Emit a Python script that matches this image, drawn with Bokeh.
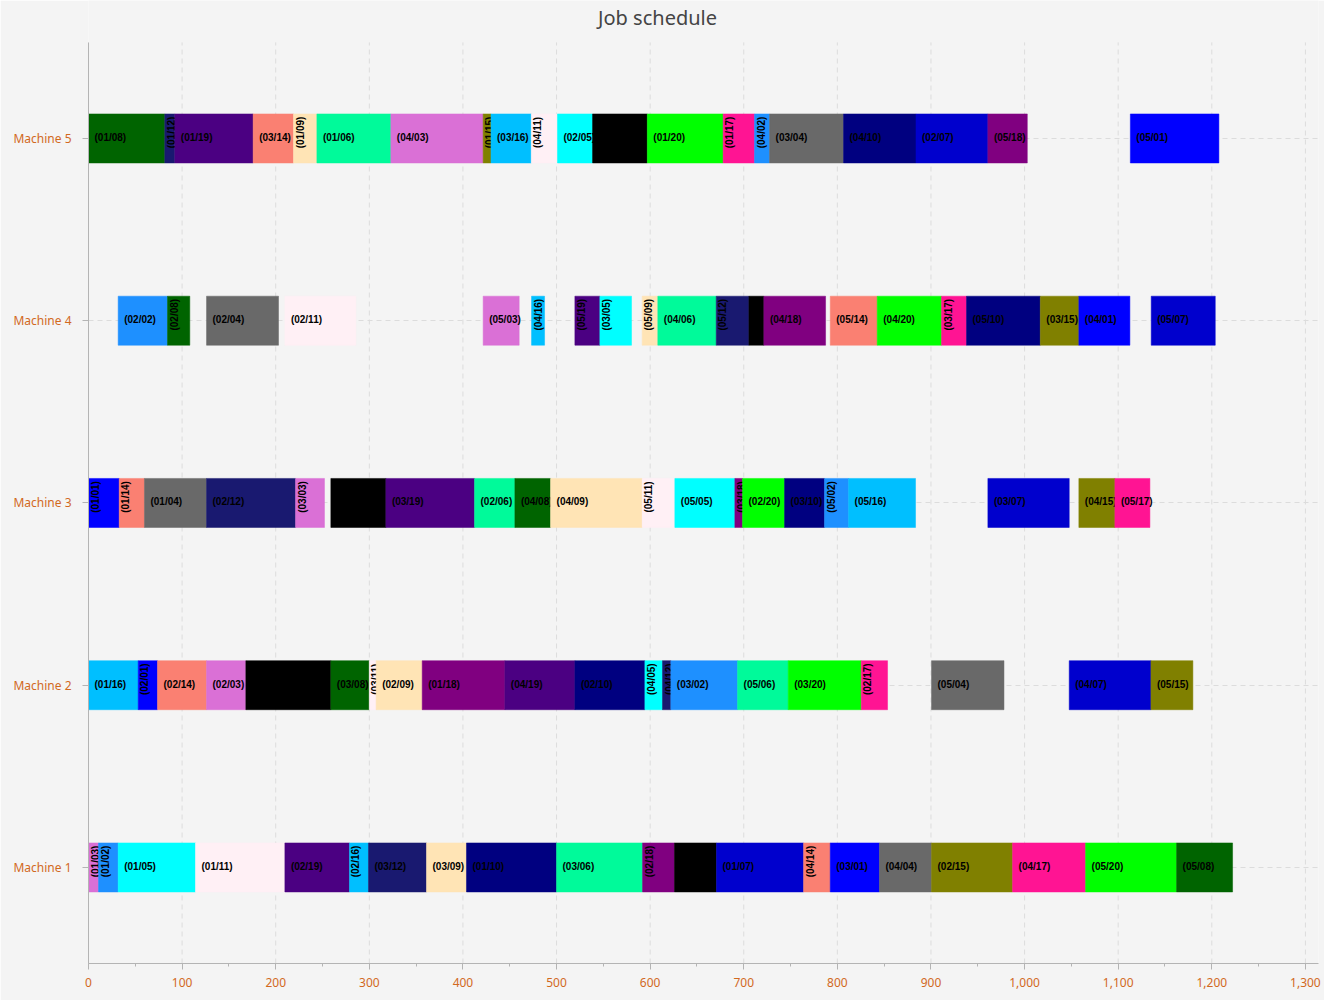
import math
from bokeh.plotting import figure
from bokeh.models import Range1d, FixedTicker, SingleIntervalTicker, NumeralTickFormatter
from bokeh.embed import file_html
from bokeh.resources import INLINE
from bokeh.core.properties import value

title_text = "Job schedule"
machines = ["Machine 1", "Machine 2", "Machine 3", "Machine 4", "Machine 5"]
x_ticks = list(range(0, 1301, 100))

# colour of each job (job number = second part of the label)
job_colors = ["#0000FF", "#1E90FF", "#DA70D6", "#696969", "#00FFFF",
              "#00FA9A", "#0000CD", "#006400", "#FFE4B5", "#000080",
              "#FFF0F5", "#191970", "#000000", "#FA8072", "#808000",
              "#00BFFF", "#FF1493", "#800080", "#4B0082", "#00FF00"]

m1_tasks = ["01/03", "01/02", "01/05", "01/11", "02/19", "02/16", "03/12", "03/09", "01/10", "03/06",
            "02/18", "04/13", "01/07", "04/14", "03/01", "04/04", "02/15", "04/17", "05/20", "05/08"]
m1_start = [0, 10.7, 31.7, 114.3, 209.8, 278.8, 299.1, 361.1, 403.8, 500,
            591.9, 626, 670.9, 763.9, 792.4, 845, 900.6, 987.2, 1065.2, 1162.4]
m1_end = [10.7, 31.7, 114.3, 209.8, 278.8, 299.1, 361.1, 403.8, 500, 591.9,
          626, 670.9, 763.9, 792.4, 845, 900.6, 987.2, 1065.2, 1162.4, 1222.2]

m2_tasks = ["01/16", "02/01", "02/14", "02/03", "01/13", "03/08", "03/11", "02/09", "01/18", "04/19",
            "02/10", "04/05", "04/12", "03/02", "05/06", "03/20", "02/17", "05/04", "04/07", "05/15"]
m2_start = [0, 53.1, 73.7, 126.1, 168.1, 258.9, 299.9, 307.3, 356.5, 444.8,
            519.6, 594.4, 613.2, 622.1, 693.4, 747.5, 825.5, 900.6, 1047.7, 1135]
m2_end = [53.1, 73.7, 126.1, 168.1, 258.9, 299.9, 307.3, 356.5, 444.8, 519.6,
          594.4, 613.2, 622.1, 693.4, 747.5, 825.5, 853.6, 978, 1135, 1179.8]

m3_tasks = ["01/01", "01/14", "01/04", "02/12", "03/03", "02/13", "03/19", "02/06", "04/08", "04/09",
            "05/11", "05/05", "03/18", "02/20", "03/10", "05/02", "05/16", "03/07", "04/15", "05/17"]
m3_start = [0, 32.8, 59.8, 126.1, 221.2, 258.9, 317.7, 412.4, 455.5, 493.6,
            591.5, 626.4, 690.5, 698.7, 743.6, 786.3, 812, 960.8, 1058, 1096.5]
m3_end = [32.8, 59.8, 126.1, 221.2, 252.1, 317.7, 412.4, 455.5, 493.6, 591.5,
          626.4, 690.5, 698.7, 743.6, 786.3, 812, 883.5, 1047.7, 1096.5, 1133.9]

m4_tasks = ["02/02", "02/08", "02/04", "02/11", "05/03", "04/16", "05/19", "03/05", "05/09", "04/06",
            "05/12", "05/13", "04/18", "05/14", "04/20", "03/17", "05/10", "03/15", "04/01", "05/07"]
m4_start = [31.7, 84.4, 126.1, 209.8, 421.6, 473.3, 519.6, 546.3, 591.5, 608.2,
            670.6, 705.5, 721.5, 792.4, 842.6, 911.3, 938, 1016.8, 1058, 1135.3]
m4_end = [84.4, 108.2, 203, 285.6, 460.1, 487.2, 546.3, 580.1, 608.2, 670.6,
          705.5, 721.5, 787.4, 842.6, 911.3, 938, 1016.8, 1058, 1112.5, 1203.7]

m5_tasks = ["01/08", "01/12", "01/19", "03/14", "01/09", "01/06", "04/03", "01/15", "03/16", "04/11",
            "02/05", "03/13", "01/20", "01/17", "04/02", "03/04", "04/10", "02/07", "05/18", "05/01"]
m5_start = [0, 81.5, 92.2, 175.9, 219, 244, 323, 421.6, 430, 473,
            501, 538.5, 597, 678, 711.5, 727.6, 806.6, 884, 960.8, 1113]
m5_end = [81.5, 92.2, 175.9, 219, 244, 323, 421.6, 430, 473, 501,
          538.5, 597, 678, 711.5, 727.6, 806.6, 884, 960.8, 1002.9, 1207.6]

schedule = [(m1_tasks, m1_start, m1_end), (m2_tasks, m2_start, m2_end),
            (m3_tasks, m3_start, m3_end), (m4_tasks, m4_start, m4_end),
            (m5_tasks, m5_start, m5_end)]

BAR_H = 0.269
ROTATE_BELOW = 36
LABEL_COLOR = "#d2691e"
BG = "#f4f4f4"
GRID = "#dcdcdc"

# visible plot area in y units; the frame extends upward to hold the title
Y_LO, Y_HI = -0.527, 4.527
Y_TOP = 4.757

p = figure(width=1324, height=1000, output_backend="svg", toolbar_location=None,
           x_range=Range1d(0, 1314), y_range=Range1d(Y_LO, Y_TOP),
           min_border_left=88, min_border_right=6, min_border_top=0, min_border_bottom=37,
           background_fill_color=BG, border_fill_color=BG)
p.outline_line_color = None

p.xaxis.ticker = SingleIntervalTicker(interval=100, num_minor_ticks=2)
p.xaxis.formatter = NumeralTickFormatter(format="0,0")
p.yaxis.ticker = FixedTicker(ticks=list(range(len(machines))))
p.yaxis.major_label_overrides = {i: m for i, m in enumerate(machines)}
p.yaxis.bounds = (Y_LO, Y_HI)
for ax in (p.xaxis, p.yaxis):
    ax.axis_line_color = "#b4b4b4"
    ax.major_tick_line_color = "#b4b4b4"
    ax.minor_tick_line_color = "#b4b4b4"
    ax.major_tick_in = 0
    ax.major_tick_out = 6
    ax.minor_tick_in = 0
    ax.minor_tick_out = 3
    ax.major_label_text_color = LABEL_COLOR
    ax.major_label_text_font = "Noto Sans"
    ax.major_label_text_font_size = "12px"
p.yaxis.minor_tick_line_color = None
p.xaxis.major_label_standoff = 8
p.yaxis.major_label_standoff = 11

p.xgrid.visible = False
p.ygrid.grid_line_color = GRID
p.ygrid.grid_line_dash = "5 4"
p.segment(x0=x_ticks, x1=x_ticks, y0=[Y_LO] * len(x_ticks), y1=[Y_HI] * len(x_ticks),
          line_color=GRID, line_dash="5 4", line_width=1, level="underlay")

# title (drawn as text inside the extended frame, above the plotting area)
p.text(x=[607.9], y=[4.664], text=[title_text], text_align="center", text_baseline="middle",
       text_font=value("Noto Sans"), text_font_size="20px", text_color="#444444")

for mi, (tasks, starts, ends) in enumerate(schedule):
    for t, s, e in zip(tasks, starts, ends):
        color = job_colors[int(t.split("/")[1]) - 1]
        p.quad(left=[s], right=[e], bottom=[mi - BAR_H / 2], top=[mi + BAR_H / 2],
               fill_color=color, line_color=color, line_alpha=0.5, line_width=1)
        if e - s < ROTATE_BELOW:
            p.text(x=[s], y=[mi], text=["(%s)" % t], angle=math.pi / 2,
                   x_offset=6.5, y_offset=-6, text_align="center", text_baseline="middle",
                   text_font=value("Liberation Sans"), text_font_style="bold",
                   text_font_size="10px", text_color="black")
        else:
            p.text(x=[s], y=[mi], text=["(%s)" % t],
                   x_offset=6, y_offset=-1, text_align="left", text_baseline="middle",
                   text_font=value("Liberation Sans"), text_font_style="bold",
                   text_font_size="10px", text_color="black")

open("out.html", "w").write(file_html(p, INLINE))
